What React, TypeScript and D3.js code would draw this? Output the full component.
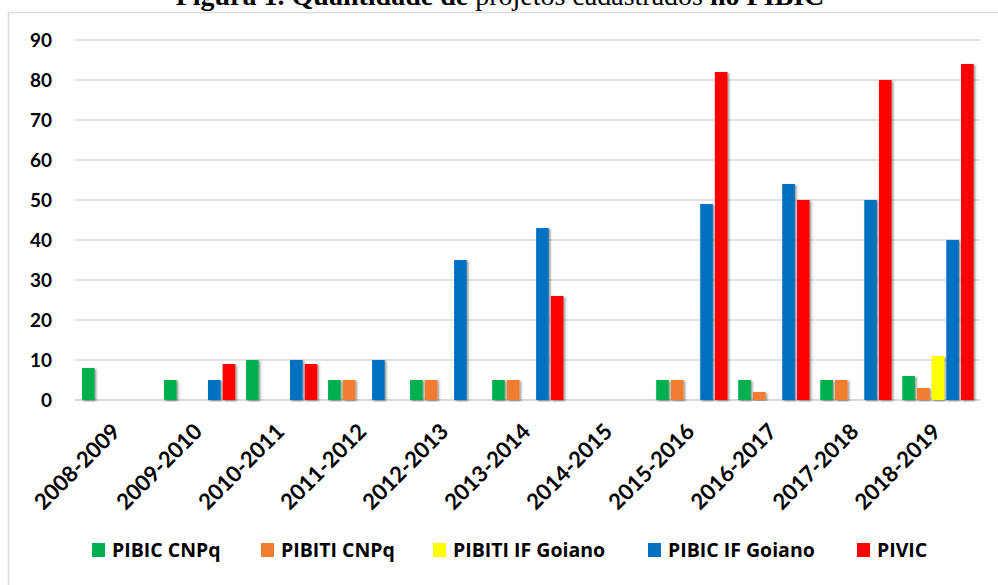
import React from "react";
import * as d3 from "d3";

const categories = [
  "2008-2009", "2009-2010", "2010-2011", "2011-2012", "2012-2013", "2013-2014",
  "2014-2015", "2015-2016", "2016-2017", "2017-2018", "2018-2019",
];
const seriesNames = ["PIBIC CNPq", "PIBITI CNPq", "PIBITI IF Goiano", "PIBIC IF Goiano", "PIVIC"];
const seriesColors = ["#00B050", "#F07D32", "#FFFF00", "#0070C0", "#FF0000"];
const pibicCnpq = [8, 5, 10, 5, 5, 5, 0, 5, 5, 5, 6];
const pibitiCnpq = [0, 0, 0, 5, 5, 5, 0, 5, 2, 5, 3];
const pibitiIfGoiano = [0, 0, 0, 0, 0, 0, 0, 0, 0, 0, 11];
const pibicIfGoiano = [0, 5, 10, 10, 35, 43, 0, 49, 54, 50, 40];
const pivic = [0, 9, 9, 0, 0, 26, 0, 82, 50, 80, 84];
const seriesValues = [pibicCnpq, pibitiCnpq, pibitiIfGoiano, pibicIfGoiano, pivic];
const yTicks = [0, 10, 20, 30, 40, 50, 60, 70, 80, 90];

const FONT = "Lato, 'Open Sans', sans-serif";
const LEGEND_FONT = "'Open Sans', Lato, sans-serif";

export default function App() {
  const W = 998, H = 585;
  const y = d3.scaleLinear().domain([0, 90]).range([400, 40]);
  const x0 = d3.scaleBand<string>().domain(categories).range([77.6, 980]).padding(0);
  const bw = x0.bandwidth();
  const x1 = d3.scaleBand<string>().domain(seriesNames).range([4.35, bw - 4.35]).padding(0);
  const barW = x1.bandwidth() * 0.86;

  const legendX = [92, 261, 433, 648, 857];

  return (
    <svg width={W} height={H} style={{ position: "absolute", left: 0, top: 0, background: "#fff" }}>
      <defs>
        <filter id="sh" x="-50%" y="-10%" width="200%" height="120%">
          <feDropShadow dx="1.5" dy="1" stdDeviation="1.3" floodColor="#000" floodOpacity="0.45" />
        </filter>
      </defs>
      <rect x={0} y={0} width={W} height={H} fill="#fff" />
      <text x={500} y={5} textAnchor="middle" fontFamily="'Liberation Serif', 'Times New Roman', serif" fontSize={28} fill="#000">
        <tspan fontWeight="bold">Figura 1. Quantidade de </tspan>
        <tspan>projetos cadastrados </tspan>
        <tspan fontWeight="bold">no PIBIC</tspan>
      </text>
      <rect x={8.5} y={12.5} width={1000} height={600} fill="none" stroke="#d9d9d9" strokeWidth={1.5} />
      {yTicks.map((t) => (
        <g key={t}>
          <line x1={75} x2={980} y1={y(t)} y2={y(t)} stroke="#d9d9d9" strokeWidth={t === 0 ? 2 : 1.3} />
          <text x={52} y={y(t)} dy="0.36em" textAnchor="end" fontFamily={FONT} fontWeight="bold" fontSize={19} fill="#000">
            {t}
          </text>
        </g>
      ))}
      {categories.map((c, ci) => (
        <g key={c} transform={`translate(${x0(c)},0)`}>
          {seriesNames.map((s, si) => {
            const v = seriesValues[si][ci];
            if (v <= 0) return null;
            return (
              <rect key={s} x={x1(s)} y={y(v)} width={barW} height={y(0) - y(v)} fill={seriesColors[si]} filter="url(#sh)" />
            );
          })}
        </g>
      ))}
      {categories.map((c) => {
        const cx = (x0(c) as number) + bw / 2 + 3;
        const cy = 433;
        return (
          <text key={c} x={cx} y={cy} textAnchor="end" transform={`rotate(-45 ${cx} ${cy})`} fontFamily={FONT} fontWeight="bold" fontSize={22} fill="#000">
            {c}
          </text>
        );
      })}
      {seriesNames.map((s, i) => (
        <g key={s}>
          <rect x={legendX[i]} y={543} width={13} height={14} fill={seriesColors[i]} />
          <text x={legendX[i] + 20} y={557} fontFamily={LEGEND_FONT} fontWeight="bold" fontSize={19.5} fill="#000">
            {s}
          </text>
        </g>
      ))}
    </svg>
  );
}
